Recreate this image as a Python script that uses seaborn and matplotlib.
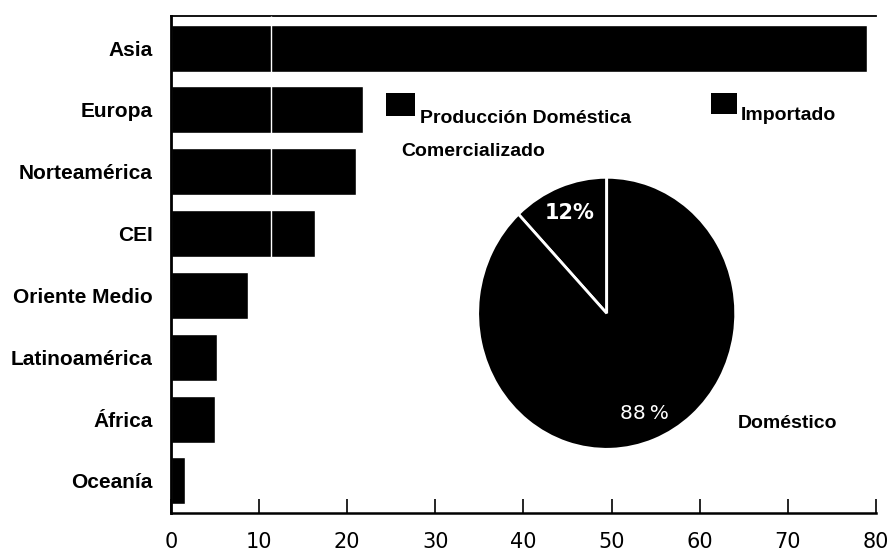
import matplotlib
matplotlib.use("Agg")
import matplotlib.pyplot as plt
from matplotlib.patches import Rectangle
import seaborn as sns
import pandas as pd

# Regional consumption (bars) and share of domestic vs imported supply (pie)
regions = ["Asia", "Europa", "Norteamérica", "CEI", "Oriente Medio",
           "Latinoamérica", "África", "Oceanía"]
values = [79.0, 21.8, 21.0, 16.3, 8.7, 5.2, 5.0, 1.55]
x_ticks = [0, 10, 20, 30, 40, 50, 60, 70, 80]

pie_labels = ["Importado", "Doméstico"]
pie_shares = [12, 88]
legend_labels = ["Producción Doméstica\nComercializado", "Importado"]

sns.set_theme(style="white")
plt.rcParams["font.family"] = ["DejaVu Sans"]

W, H = 895, 552
fig = plt.figure(figsize=(W / 100, H / 100), dpi=100)


def fx(px):
    return px / W


def fy(py):
    return 1 - py / H


ax = fig.add_axes([fx(171), fy(513), fx(876) - fx(171), fy(16) - fy(513)])

df = pd.DataFrame({"region": regions, "value": values})
sns.barplot(data=df, x="value", y="region", order=regions, orient="h",
            color="black", saturation=1, width=0.76, ax=ax)

ax.set_xlim(0, 80)
ax.set_ylim(7.52, -0.52)
ax.set_xticks(x_ticks)
ax.set_xlabel("")
ax.set_ylabel("")

# Light rule cutting through the upper bars
ax.vlines(11.3, -0.52, 3.38, color="white", lw=1, zorder=3)

for side in ["left", "bottom", "top"]:
    ax.spines[side].set_visible(True)
    ax.spines[side].set_color("black")
ax.spines["left"].set_linewidth(2)
ax.spines["bottom"].set_linewidth(1.8)
ax.spines["top"].set_linewidth(1.3)
ax.spines["right"].set_visible(False)

ax.tick_params(axis="x", direction="in", length=10, width=1.2, color="black",
               pad=14, labelsize=15, labelcolor="black", bottom=True, top=False)
ax.tick_params(axis="y", length=0, pad=13)
for lbl in ax.get_yticklabels():
    lbl.set_fontfamily(["Liberation Sans", "DejaVu Sans"])
    lbl.set_fontweight("bold")
    lbl.set_fontsize(15)
    lbl.set_color("black")

# Inset pie: share of imported vs domestic supply
cx, cy, rx, ry = 606.7, 313.3, 129, 136
pax = fig.add_axes([fx(cx - rx), fy(cy + ry), fx(2 * rx), fy(cy - ry) - fy(cy + ry)])


def pct_fmt(p):
    return f"{p:.0f}%" if p < 50 else f"{p:.0f}\u2009%"


wedges, texts, autotexts = pax.pie(
    pie_shares, colors=["black", "black"], startangle=90, counterclock=True,
    autopct=pct_fmt, pctdistance=0.79,
    wedgeprops=dict(edgecolor="white", linewidth=2),
)
pax.set_aspect("auto")
pax.set_xlim(-1, 1)
pax.set_ylim(-1, 1)
pax.axis("off")
autotexts[0].set_color("white")
autotexts[0].set_fontsize(15)
autotexts[0].set_fontweight("bold")
autotexts[1].set_color("white")
autotexts[1].set_fontsize(14.5)

bold = dict(family=["Liberation Sans", "DejaVu Sans"], weight="bold",
            color="black", fontsize=14)

# Legend swatches and labels
fig.patches.append(Rectangle((fx(386), fy(116)), fx(415.5) - fx(386), fy(93) - fy(116),
                             transform=fig.transFigure, facecolor="black",
                             edgecolor="none", figure=fig))
fig.patches.append(Rectangle((fx(711), fy(114)), fx(737) - fx(711), fy(93) - fy(114),
                             transform=fig.transFigure, facecolor="black",
                             edgecolor="none", figure=fig))
first, second = legend_labels[0].split("\n")
fig.text(fx(420), fy(118), first, ha="left", va="center", **bold)
fig.text(fx(401), fy(151), second, ha="left", va="center", **bold)
fig.text(fx(741), fy(116), legend_labels[1], ha="left", va="center", **bold)

# Label for the large wedge
fig.text(fx(738), fy(423), pie_labels[1], ha="left", va="center", **bold)

fig.savefig("out.png", dpi=100, facecolor="white")
